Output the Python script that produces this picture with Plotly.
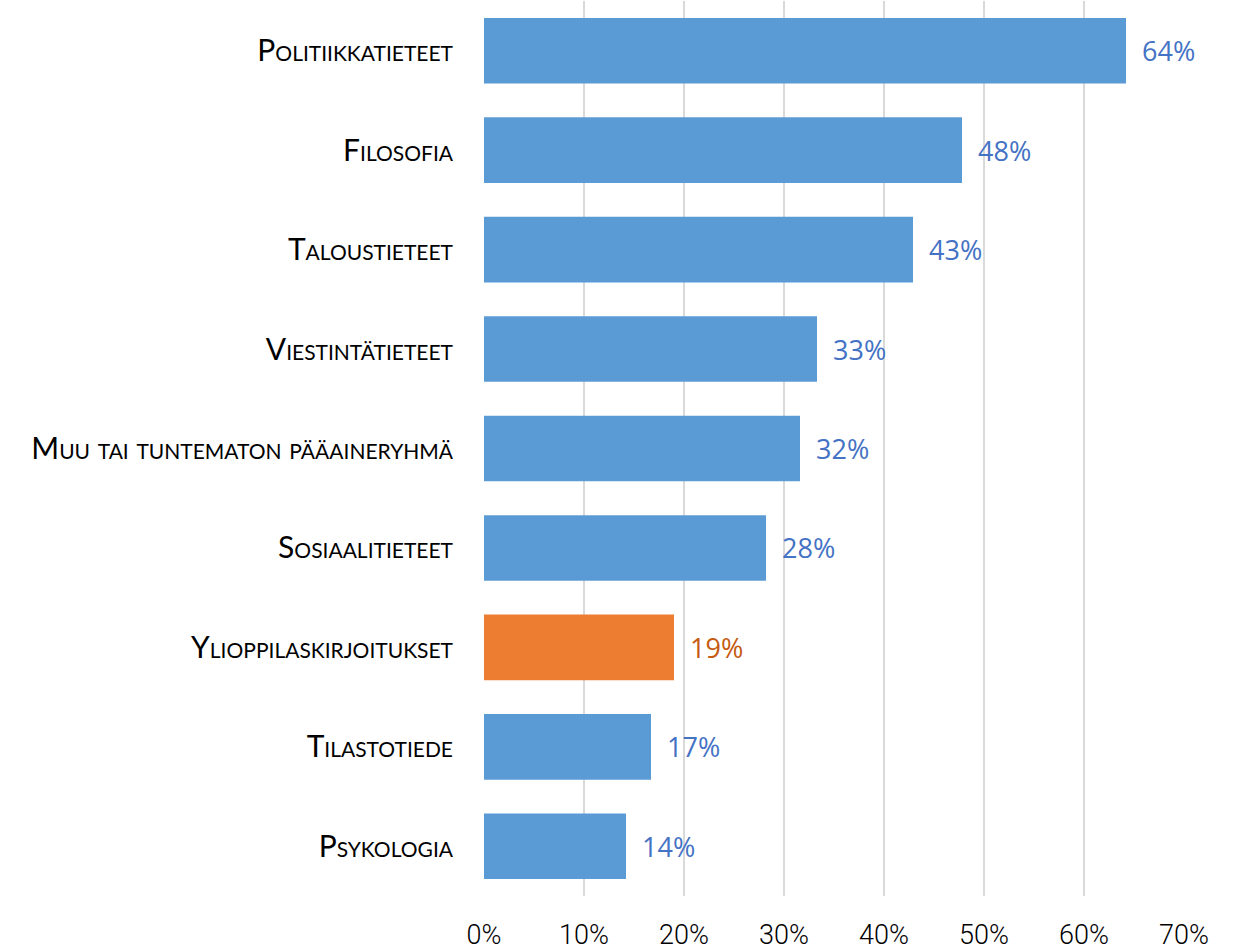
import plotly.graph_objects as go

categories = [
    "Politiikkatieteet",
    "Filosofia",
    "Taloustieteet",
    "Viestintätieteet",
    "Muu tai tuntematon pääaineryhmä",
    "Sosiaalitieteet",
    "Ylioppilaskirjoitukset",
    "Tilastotiede",
    "Psykologia",
]
values = [64.2, 47.8, 42.9, 33.3, 31.6, 28.2, 19.0, 16.7, 14.2]
highlight = "Ylioppilaskirjoitukset"
tick_vals = [0, 10, 20, 30, 40, 50, 60, 70]
tick_text = ["0%", "10%", "20%", "30%", "40%", "50%", "60%", "70%"]

BLUE = "#5B9BD5"
ORANGE = "#ED7D31"
BLUE_TXT = "#4472C4"
ORANGE_TXT = "#C55A11"

bar_colors = [ORANGE if c == highlight else BLUE for c in categories]
txt_colors = [ORANGE_TXT if c == highlight else BLUE_TXT for c in categories]

fig = go.Figure()
fig.add_trace(go.Bar(
    y=categories,
    x=values,
    orientation="h",
    marker=dict(color=bar_colors, line=dict(width=0)),
    hoverinfo="skip",
))

for c, v, col in zip(categories, values, txt_colors):
    fig.add_annotation(
        x=v, y=c, text=f"{round(v):d}%", showarrow=False,
        xanchor="left", yanchor="middle", xshift=14,
        font=dict(family="Open Sans", size=27, color=col),
    )

fig.update_layout(
    width=1236, height=950,
    margin=dict(l=484, r=52, t=1, b=54, autoexpand=False),
    paper_bgcolor="white", plot_bgcolor="white",
    bargap=0.34,
    showlegend=False,
)
fig.update_xaxes(
    range=[0, 70], tickvals=tick_vals, ticktext=tick_text,
    showgrid=True, gridcolor="#D9D9D9", gridwidth=1.5,
    zeroline=False, showline=False, ticks="",
    ticklabelstandoff=20, automargin=False,
    tickfont=dict(family="Roboto", size=27, color="#000000", weight=300),
)
fig.update_yaxes(
    categoryorder="array", categoryarray=categories[::-1],
    showgrid=False, zeroline=False, showline=False, ticks="",
    ticklabelstandoff=30, automargin=False,
    tickfont=dict(family="Lato", size=30, color="#000000", variant="small-caps"),
)

fig.write_html(
    "out.html",
    config={"displayModeBar": False},
    post_script="document.body.style.margin='0';document.body.style.overflow='hidden';",
)
